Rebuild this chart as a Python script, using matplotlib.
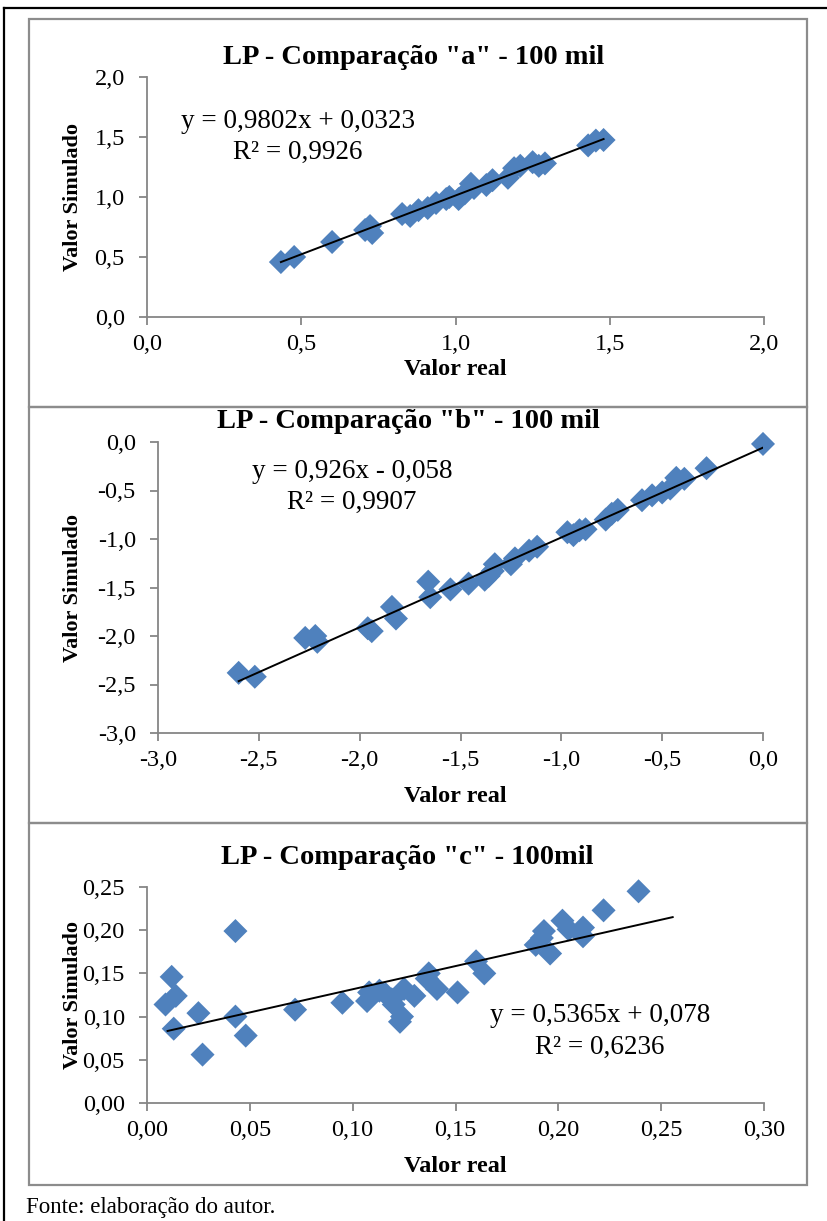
import numpy as np
import matplotlib
matplotlib.use('agg')
import matplotlib.pyplot as plt
from matplotlib.patches import Rectangle
from matplotlib.lines import Line2D
from matplotlib.ticker import FuncFormatter

plt.rcParams['font.family'] = ['Liberation Serif', 'DejaVu Serif']

# panel a
a_real = [0.434, 0.477, 0.60, 0.707, 0.723, 0.73, 0.827, 0.853, 0.88, 0.91, 0.937, 0.97, 0.98,
          1.01, 1.03, 1.05, 1.06, 1.10, 1.12, 1.17, 1.19, 1.21, 1.25, 1.27, 1.29, 1.43, 1.455, 1.48]
a_sim = [0.458, 0.50, 0.625, 0.725, 0.758, 0.70, 0.858, 0.842, 0.89, 0.908, 0.95, 0.983, 1.0,
         0.983, 1.03, 1.11, 1.075, 1.10, 1.14, 1.16, 1.24, 1.26, 1.29, 1.26, 1.28, 1.43, 1.47, 1.475]
a_fit = (0.9802, 0.0323)
a_eq = ['y = 0,9802x + 0,0323', 'R² = 0,9926']

# panel b
b_real = [-2.60, -2.52, -2.27, -2.22, -2.21, -1.96, -1.94, -1.84, -1.82, -1.66, -1.65, -1.55, -1.46,
          -1.38, -1.36, -1.34, -1.33, -1.25, -1.23, -1.16, -1.12, -0.97, -0.94, -0.91, -0.88, -0.78,
          -0.75, -0.72, -0.60, -0.55, -0.50, -0.46, -0.43, -0.39, -0.28, 0.0]
b_sim = [-2.38, -2.42, -2.02, -2.00, -2.06, -1.92, -1.95, -1.70, -1.82, -1.44, -1.60, -1.52, -1.46,
         -1.42, -1.38, -1.33, -1.26, -1.26, -1.20, -1.12, -1.08, -0.93, -0.96, -0.91, -0.90, -0.80,
         -0.74, -0.70, -0.60, -0.55, -0.52, -0.48, -0.37, -0.38, -0.27, -0.02]
b_fit = (0.926, -0.058)
b_eq = ['y = 0,926x - 0,058', 'R² = 0,9907']

# panel c
c_real = [0.009, 0.012, 0.014, 0.013, 0.025, 0.027, 0.043, 0.043, 0.048, 0.072, 0.095, 0.107,
          0.108, 0.113, 0.116, 0.119, 0.120, 0.125, 0.124, 0.123, 0.130, 0.136, 0.137, 0.141,
          0.151, 0.160, 0.164, 0.189, 0.192, 0.193, 0.196, 0.202, 0.205, 0.212, 0.212, 0.222, 0.239]
c_sim = [0.114, 0.146, 0.124, 0.086, 0.104, 0.056, 0.199, 0.100, 0.078, 0.108, 0.116, 0.118,
         0.128, 0.130, 0.126, 0.120, 0.114, 0.132, 0.100, 0.094, 0.124, 0.144, 0.150, 0.132,
         0.128, 0.164, 0.150, 0.183, 0.191, 0.199, 0.173, 0.211, 0.201, 0.203, 0.193, 0.223, 0.245]
c_fit = (0.5365, 0.078)
c_eq = ['y = 0,5365x + 0,078', 'R² = 0,6236']

W, H = 827, 1221
fig = plt.figure(figsize=(W / 100, H / 100), dpi=100)

blue = '#4F81BD'
gray = '#868686'


def rect(x0, y0, x1, y1):
    # pixel box (top-left origin) -> figure fraction
    return [x0 / W, 1 - y1 / H, (x1 - x0) / W, (y1 - y0) / H]


def ftext(x, y, s, **kw):
    fig.text(x / W, 1 - y / H, s, **kw)


# outer frame
fig.add_artist(Line2D([4 / W, 4 / W], [0, 1 - 8 / H], color='black', lw=1.6))
fig.add_artist(Line2D([4 / W, 1], [1 - 8 / H, 1 - 8 / H], color='black', lw=1.6))

# gray chart boxes
for y0, y1 in [(19, 407), (407, 823), (823, 1185)]:
    fig.add_artist(Rectangle((29 / W, 1 - y1 / H), (807 - 29) / W, (y1 - y0) / H,
                             fill=False, ec='#8c8c8c', lw=1.6, transform=fig.transFigure))


def panel(box, xs, ys, fit, xlim, ylim, xticks, yticks, fmt, title, title_xy, eq, eq_xy, xlab_y, fit_x):
    ax = fig.add_axes(rect(*box))
    ax.scatter(xs, ys, marker='D', s=150, color=blue, edgecolors='none', zorder=2, clip_on=False)
    fx = np.array(fit_x)
    ax.plot(fx, fit[0] * fx + fit[1], color='black', lw=1.4, zorder=3)
    ax.set_xlim(*xlim)
    ax.set_ylim(*ylim)
    ax.set_xticks(xticks)
    ax.set_yticks(yticks)
    f = FuncFormatter(lambda v, p: (fmt % v).replace('.', ','))
    ax.xaxis.set_major_formatter(f)
    ax.yaxis.set_major_formatter(f)
    for s in ['top', 'right']:
        ax.spines[s].set_visible(False)
    for s in ['left', 'bottom']:
        ax.spines[s].set_color(gray)
        ax.spines[s].set_linewidth(1.3)
    ax.tick_params(direction='out', length=6, width=1.3, color=gray, labelsize=17.5)
    ax.tick_params(axis='y', pad=10)
    ax.tick_params(axis='x', pad=6)
    ftext(title_xy[0], title_xy[1], title, ha='center', va='center', fontsize=20.5, fontweight='bold')
    ftext(eq_xy[0], eq_xy[1], eq[0], ha='center', va='center', fontsize=19.5)
    ftext(eq_xy[0], eq_xy[1] + 31, eq[1], ha='center', va='center', fontsize=19.5)
    ftext(455, xlab_y, 'Valor real', ha='center', va='center', fontsize=17.5, fontweight='bold')
    ftext(73, (box[1] + box[3]) / 2, 'Valor Simulado', ha='center', va='center', fontsize=16,
          fontweight='bold', rotation=90)
    return ax


panel((147, 77, 764, 317), a_real, a_sim, a_fit, (0, 2), (0, 2),
      [0, 0.5, 1.0, 1.5, 2.0], [0, 0.5, 1.0, 1.5, 2.0], '%.1f',
      'LP - Comparação "a" - 100 mil', (414, 57), a_eq, (298, 121), 370, [min(a_real), max(a_real)])

panel((158, 442, 763, 733), b_real, b_sim, b_fit, (-3, 0), (-3, 0),
      [-3, -2.5, -2, -1.5, -1, -0.5, 0], [-3, -2.5, -2, -1.5, -1, -0.5, 0], '%.1f',
      'LP - Comparação "b" - 100 mil', (408, 421), b_eq, (352, 471), 797, [min(b_real), max(b_real)])

panel((147, 887, 764, 1103), c_real, c_sim, c_fit, (0, 0.3), (0, 0.25),
      [0, 0.05, 0.1, 0.15, 0.2, 0.25, 0.3], [0, 0.05, 0.1, 0.15, 0.2, 0.25], '%.2f',
      'LP - Comparação "c" - 100mil', (407, 857), c_eq, (600, 1016), 1166, [0.010, 0.2556])

ftext(26, 1207, 'Fonte: elaboração do autor.', ha='left', va='center', fontsize=16.5)

fig.savefig('out.png', dpi=100)
